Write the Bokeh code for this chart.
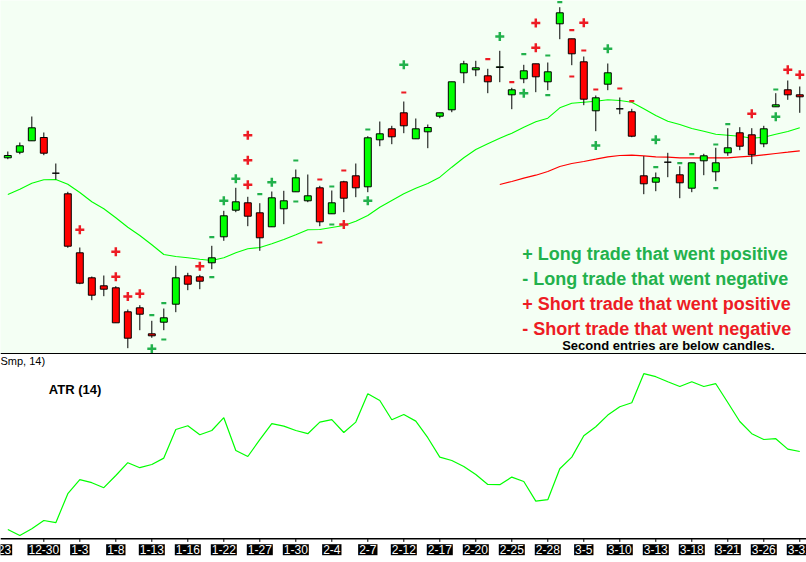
from bokeh.plotting import figure
from bokeh.layouts import column
from bokeh.models import Range1d, Span, Label, ColumnDataSource
from bokeh.embed import file_html
from bokeh.resources import INLINE
from bokeh.core.properties import value

# ---------------- data ----------------
date_labels = ["12-23", "12-30", "1-3", "1-8", "1-13", "1-16", "1-22", "1-27", "1-30", "2-4",
               "2-7", "2-12", "2-17", "2-20", "2-25", "2-28", "3-5", "3-10", "3-13", "3-18",
               "3-21", "3-26", "3-31"]
label_bars = [-1, 3, 6, 9, 12, 15, 18, 21, 24, 27, 30, 33, 36, 39, 42, 45, 48, 51, 54, 57, 60, 63, 66]

opens = [242.7, 248.3, 259.7, 263.0, 227.3, 206.7, 147.7, 122.7, 114.7, 112.7,
         88.7, 92.7, 66.7, 78.3, 96.3, 124.7, 123.7, 137.7, 163.7, 190.3,
         197.7, 187.7, 173.7, 191.7, 208.7, 199.7, 212.7, 186.7, 218.7, 224.7,
         213.7, 260.7, 271.7, 287.7, 261.7, 268.7, 284.3, 290.7, 327.7, 330.7,
         324.7, 333.0, 305.7, 321.7, 336.7, 318.7, 376.7, 361.7, 338.7, 289.7,
         316.3, 291.7, 288.7, 224.7, 218.3, 238.3, 225.7, 212.3, 239.7, 228.7,
         247.7, 267.7, 265.7, 256.7, 293.7, 310.7, 305.7]
highs = [249.0, 258.0, 284.0, 268.0, 237.0, 208.7, 153.0, 124.0, 125.0, 114.3,
         91.0, 95.3, 79.7, 92.0, 134.7, 127.7, 125.7, 154.7, 189.7, 212.7,
         203.7, 197.3, 209.0, 209.7, 231.0, 226.0, 214.7, 210.0, 219.7, 237.0,
         264.3, 279.0, 274.7, 299.0, 282.0, 276.0, 287.7, 318.7, 339.7, 339.7,
         331.7, 349.7, 312.7, 335.7, 336.7, 338.0, 393.3, 361.7, 344.0, 305.0,
         337.0, 303.0, 291.7, 244.3, 228.0, 247.7, 234.3, 237.7, 246.7, 252.7,
         272.3, 273.3, 272.3, 274.7, 307.3, 320.0, 314.0]
lows = [241.3, 246.3, 259.7, 245.3, 221.0, 152.7, 116.3, 100.3, 104.3, 77.7,
        52.3, 70.3, 62.7, 70.3, 88.3, 110.3, 111.3, 131.3, 159.7, 188.3,
        174.3, 149.7, 173.7, 176.3, 208.7, 198.3, 174.3, 186.7, 188.3, 203.3,
        208.3, 254.3, 256.3, 267.3, 261.7, 252.3, 282.3, 288.3, 317.3, 324.3,
        307.3, 318.3, 291.3, 317.3, 308.3, 310.3, 361.3, 335.3, 295.3, 269.3,
        310.3, 286.3, 263.3, 206.3, 209.3, 223.3, 202.3, 208.3, 225.3, 219.3,
        244.7, 250.3, 236.3, 253.3, 293.7, 300.7, 287.7]
closes = [245.0, 254.7, 272.7, 247.3, 227.3, 154.3, 117.3, 105.3, 111.3, 77.7,
          62.3, 86.3, 64.7, 82.7, 122.7, 116.3, 119.3, 142.7, 184.7, 198.7,
          184.3, 162.7, 202.7, 199.7, 222.7, 204.7, 178.7, 197.7, 202.3, 212.7,
          262.7, 266.7, 263.7, 274.7, 271.7, 273.0, 287.7, 318.7, 336.7, 332.7,
          318.7, 333.7, 310.7, 329.7, 323.7, 328.7, 387.7, 346.7, 301.3, 302.7,
          327.7, 291.7, 264.3, 216.7, 222.7, 238.3, 217.7, 237.7, 244.7, 237.7,
          252.7, 254.3, 245.7, 271.7, 295.7, 305.7, 303.7]

ma_fast = [206.0, 211.3, 217.3, 220.7, 221.0, 216.3, 208.0, 198.7, 191.7, 182.7,
           173.3, 165.0, 155.7, 146.0, 144.0, 142.7, 141.3, 140.0, 142.7, 147.7,
           151.7, 153.0, 156.7, 161.0, 165.7, 170.7, 171.0, 173.0, 175.0, 179.3,
           185.0, 193.3, 200.0, 206.7, 212.3, 217.0, 223.3, 233.3, 242.7, 251.0,
           256.7, 262.3, 267.3, 273.3, 278.7, 282.3, 292.7, 297.3, 298.3, 299.3,
           300.7, 300.0, 298.3, 291.7, 285.0, 279.3, 276.0, 272.0, 269.3, 266.3,
           265.3, 264.3, 262.3, 263.3, 266.3, 269.0, 272.7]
ma_slow_start = 41
ma_slow = [216.0, 219.0, 222.3, 225.3, 229.0, 234.0, 237.0, 239.0, 241.3, 243.7,
           245.0, 245.3, 244.7, 243.7, 243.3, 242.7, 242.7, 242.7, 242.7, 242.7,
           243.7, 244.3, 245.7, 247.0, 248.3, 249.7]

atr = [15.5, 12.5, 15.9, 20.0, 18.9, 33.4, 40.4, 38.9, 36.4, 42.5,
       48.9, 46.4, 48.0, 51.2, 65.5, 67.4, 62.9, 65.0, 71.4, 55.0,
       52.0, 60.4, 68.4, 67.2, 65.0, 63.4, 69.2, 70.4, 64.0, 69.2,
       83.4, 80.0, 70.4, 73.0, 69.7, 61.4, 51.7, 50.0, 47.0, 43.0,
       38.0, 37.9, 41.7, 39.5, 29.7, 30.4, 45.9, 51.7, 62.4, 66.9,
       72.7, 76.9, 78.9, 93.4, 91.9, 89.4, 87.0, 89.4, 87.0, 88.4,
       79.0, 69.5, 63.4, 60.5, 60.9, 55.7, 54.5]

trade_bar = [6, 9, 9, 10, 11, 12, 12, 13, 13, 16,
             17, 17, 18, 19, 20, 20, 20, 21, 22, 24,
             24, 26, 26, 27, 27, 28, 28, 30, 30, 33,
             33, 40, 41, 42, 43, 43, 44, 44, 45, 45,
             46, 47, 47, 48, 48, 49, 49, 50, 51, 52,
             54, 54, 56, 57, 59, 59, 60, 62, 64, 64,
             65, 66]
trade_price = [170.7, 148.7, 123.7, 104.0, 106.7, 85.3, 51.7, 97.3, 61.0, 134.3,
               163.3, 123.3, 199.7, 221.7, 265.3, 240.3, 215.7, 206.3, 218.3, 240.0,
               199.0, 221.0, 158.0, 214.0, 176.0, 230.0, 176.0, 271.0, 199.7, 308.0,
               335.7, 341.3, 364.0, 318.3, 346.3, 307.3, 377.5, 352.7, 345.0, 305.3,
               398.3, 370.3, 324.0, 377.7, 350.0, 311.0, 255.0, 351.7, 312.0, 299.3,
               233.3, 260.7, 237.3, 246.3, 256.0, 212.3, 276.3, 286.7, 311.0, 283.7,
               330.7, 325.7]
# LP long positive, LN long negative, SP short positive, SN short negative
trade_kind = ["SP", "SP", "SP", "SP", "SP", "LN", "LP", "LN", "LN", "SP",
              "LN", "LN", "LP", "LP", "SP", "SP", "SP", "LN", "LP", "LN",
              "LN", "SN", "SN", "LN", "LN", "SN", "SP", "LN", "LP", "SN",
              "LP", "SN", "LP", "SN", "LN", "LP", "SP", "SP", "LN", "LN",
              "LN", "SN", "SN", "SP", "SN", "SN", "LP", "LP", "SN", "SN",
              "LN", "LP", "LN", "LN", "LN", "LN", "LN", "SP", "LN", "LP",
              "SP", "SP"]

legend_lines = ["+ Long trade that went positive", "- Long trade that went negative",
                "+ Short trade that went positive", "- Short trade that went negative"]
legend_note = "Second entries are below candles."

# ---------------- styles ----------------
BG = "#F4FFF4"
UP = "#00FF00"
DOWN = "#FF0000"
TGREEN = "#22B14C"
TRED = "#ED1C24"
FONT = "Liberation Sans"

W = 806
bars = list(range(len(opens)))
xr = Range1d(-0.61, 66.56)

p1 = figure(width=W, height=354, x_range=xr, y_range=Range1d(46, 400),
            output_backend="svg", toolbar_location=None, min_border=0,
            x_axis_location=None, y_axis_location=None,
            background_fill_color=BG, border_fill_color=BG, outline_line_color=None)
p1.grid.visible = False

src = ColumnDataSource(dict(
    x=bars, o=opens, h=highs, l=lows, c=closes,
    top=[max(a, b) for a, b in zip(opens, closes)],
    bot=[min(a, b) for a, b in zip(opens, closes)],
    col=[UP if c >= o else DOWN for o, c in zip(opens, closes)],
))

p1.line(bars, ma_fast, line_color=UP, line_width=1.1)
slow_x = list(range(ma_slow_start, ma_slow_start + len(ma_slow)))
p1.line(slow_x, ma_slow, line_color=DOWN, line_width=1.2)

p1.segment(x0="x", y0="h", x1="x", y1="l", source=src, line_color="black", line_width=1)
p1.vbar(x="x", width=0.58, top="top", bottom="bot", source=src,
        fill_color="col", line_color="black", line_width=1)

style = {"LP": ("cross", TGREEN, 9, 2.5), "LN": ("dash", TGREEN, 5, 2.2),
         "SP": ("cross", TRED, 9, 2.5), "SN": ("dash", TRED, 5, 2.2)}
for k, (mk, colr, sz, lw) in style.items():
    xs = [b for b, kk in zip(trade_bar, trade_kind) if kk == k]
    ys = [pp for pp, kk in zip(trade_price, trade_kind) if kk == k]
    p1.scatter(xs, ys, marker=mk, size=sz, line_color=colr, line_width=lw)

leg_colors = [TGREEN, TGREEN, TRED, TRED]
leg_y = [146.2, 121.2, 96.5, 71.8]
for txt, colr, yy in zip(legend_lines, leg_colors, leg_y):
    p1.add_layout(Label(x=42.87, y=yy, text=txt, text_color=colr, text_font=FONT,
                        text_font_style="bold", text_font_size="18px",
                        text_baseline="alphabetic", text_align="left"))
p1.add_layout(Label(x=46.2, y=55.5, text=legend_note, text_color="black", text_font=FONT,
                    text_font_style="bold", text_font_size="13px",
                    text_baseline="alphabetic", text_align="left"))
p1.add_layout(Span(location=46.7, dimension="width", line_color="black", line_width=1.5))

p2 = figure(width=W, height=208, x_range=xr, y_range=Range1d(-1, 103),
            output_backend="svg", toolbar_location=None, min_border=0,
            x_axis_location=None, y_axis_location=None,
            background_fill_color="white", border_fill_color="white", outline_line_color=None)
p2.grid.visible = False
p2.line(bars, atr, line_color=UP, line_width=1.2)

p2.add_layout(Label(x=-0.61, y=100.0, text="Smp, 14)", text_color="black", text_font=FONT,
                    text_font_size="11px", text_baseline="alphabetic"))
p2.add_layout(Label(x=3.42, y=85.7, text="ATR (14)", text_color="black", text_font=FONT,
                    text_font_style="bold", text_font_size="13px", text_baseline="alphabetic"))

p2.add_layout(Span(location=10.85, dimension="width", line_color="black", line_width=1.5))
p2.segment(x0=label_bars, y0=[10.85] * len(label_bars), x1=label_bars,
           y1=[9.3] * len(label_bars), line_color="black", line_width=1)
p2.text(x=label_bars, y=[5.4] * len(label_bars), text=date_labels,
        text_color="white", text_font=value(FONT), text_font_size="12px",
        text_align="center", text_baseline="middle",
        background_fill_color="black", padding=1)

layout = column(p1, p2, spacing=0)
open("out.html", "w").write(file_html(layout, INLINE))
